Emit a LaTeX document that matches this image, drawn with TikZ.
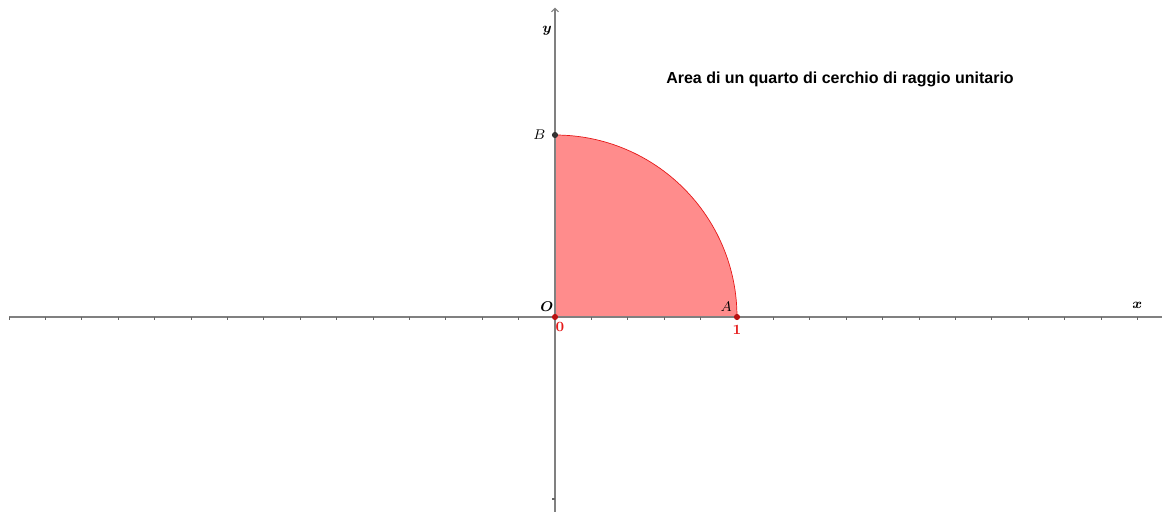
\documentclass[tikz,border=0pt]{standalone}
\usepackage{amsmath}
\usepackage{fontspec}
\usetikzlibrary{arrows.meta, positioning}
\newfontfamily\titlefont{Liberation Sans}
\tikzset{axis/.style = {draw=gray, line width=0.6pt}}
\tikzset{circ/.style = {fill, circle, inner sep = 0, minimum size = 3.5pt}}
\tikzset{lbl/.style = {font=\footnotesize}}
\definecolor{mred}{rgb}{0.9, 0.1, 0.1}
\definecolor{mpink}{rgb}{1, 0.55, 0.55}

\begin{document}
\begin{tikzpicture}[x=3.64cm, y=3.64cm]
    \useasboundingbox (-3.0495, -1.0879) rectangle (3.3352, 1.7418);

    % quarter disc
    \fill [mpink] (0, 0) -- (1, 0) arc [start angle=0, end angle=90, radius=1] -- cycle;
    \draw [mred, line width=0.4pt] (0, 1) arc [start angle=90, end angle=0, radius=1] -- (0, 0);

    % axes
    \draw [axis] (-3.0, 0) -- (3.3352, 0);
    \draw [axis, -{Straight Barb[length=2pt, width=4pt]}] (0, -1.07) -- (0, 1.70);
    \foreach \t in {-30, -28, ..., 32}
      \draw [gray!80!black, line width=0.5pt] (\t/10, 0) -- +(0, -0.016);
    \draw [gray!80!black, line width=0.6pt] (0, -1) -- +(-0.014, 0);

    \node [lbl] (xl) at (3.2, 0.066) {$\boldsymbol{x}$};
    \node [lbl] (yl) at (-0.044, 1.571) {$\boldsymbol{y}$};

    % points
    \node [circ, mred!80!black] (O) at (0, 0) {};
    \node [circ, mred!80!black] (A) at (1, 0) {};
    \node [circ, black!80] (B) at (0, 1) {};
    \node [lbl, above left=-2pt and -4pt of O] {$\boldsymbol{O}$};
    \node [lbl, above left=-2pt and -2pt of A] {$A$};
    \node [lbl, left=0pt of B] {$B$};
    \node [lbl, text=mred, below right=-2pt and -4.5pt of O, font=\footnotesize\bfseries] {0};
    \node [lbl, text=mred, below=-1pt of A, font=\footnotesize\bfseries] {1};

    \node (title) at (1.566, 1.308) {\titlefont\fontsize{9.1}{11}\selectfont\bfseries Area di un quarto di cerchio di raggio unitario};
  \end{tikzpicture}
\end{document}
